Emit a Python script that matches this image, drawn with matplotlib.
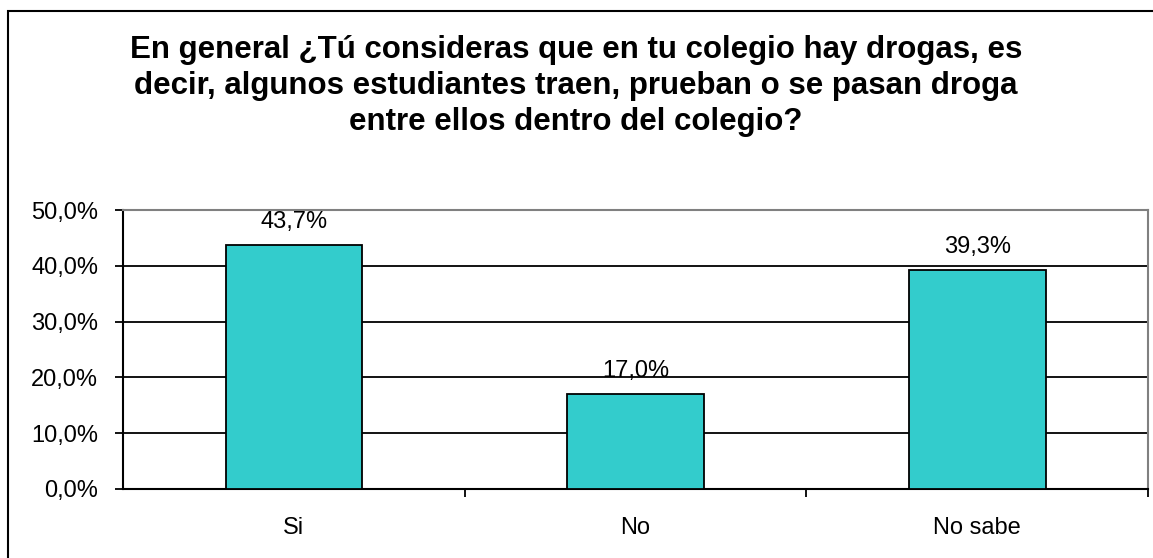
import matplotlib.pyplot as plt
from matplotlib.patches import Rectangle
import numpy as np

categories = ["Si", "No", "No sabe"]
values = [43.7, 17.0, 39.3]
value_labels = ["43,7%", "17,0%", "39,3%"]
yticks = [0, 10, 20, 30, 40, 50]
ytick_labels = ["0,0%", "10,0%", "20,0%", "30,0%", "40,0%", "50,0%"]
title = ("En general ¿Tú consideras que en tu colegio hay drogas, es\n"
         "decir, algunos estudiantes traen, prueban o se pasan droga\n"
         "entre ellos dentro del colegio?")

plt.rcParams['font.family'] = ['Liberation Sans', 'DejaVu Sans']

W, H = 1153, 558
fig = plt.figure(figsize=(W / 100, H / 100), dpi=100)
ax = fig.add_axes([123 / W, (H - 489) / H, (1148 - 123) / W, (489 - 210) / H])

x = np.arange(len(categories))
ax.bar(x, values, width=0.40, color="#33CCCC", edgecolor="black", linewidth=1.3, zorder=3)
for xi, v, lab in zip(x, values, value_labels):
    ax.annotate(lab, (xi, v), xytext=(0, 16.5), textcoords="offset points",
                ha="center", va="center", fontsize=17)

ax.set_xlim(-0.5, 2.5)
ax.set_ylim(0, 50)
ax.set_yticks(yticks)
ax.set_yticklabels(ytick_labels, fontsize=17)
ax.yaxis.grid(True, color="black", linewidth=1.3, zorder=1)
ax.set_xticks(x)
ax.set_xticklabels(categories, fontsize=17)
ax.set_xticks([0.5, 1.5, 2.5], minor=True)
ax.tick_params(axis="x", which="major", length=0, pad=20)
ax.tick_params(axis="x", which="minor", length=6, width=1.3, direction="out")
ax.tick_params(axis="y", length=6, width=1.3, direction="out", pad=12)

for s in ["left", "bottom"]:
    ax.spines[s].set_color("black")
    ax.spines[s].set_linewidth(1.5)
for s in ["top", "right"]:
    ax.spines[s].set_color("#808080")
    ax.spines[s].set_linewidth(1.5)

fig.text(576 / W, 1 - 86 / H, title, ha="center", va="center", fontsize=22.5,
         fontweight="bold", linespacing=1.24)

border = Rectangle((8 / W, -0.1), 1.1, (H - 11) / H + 0.1, transform=fig.transFigure,
                   fill=False, edgecolor="black", linewidth=1.5, clip_on=False)
fig.patches.append(border)

fig.savefig("out.png", dpi=100)
